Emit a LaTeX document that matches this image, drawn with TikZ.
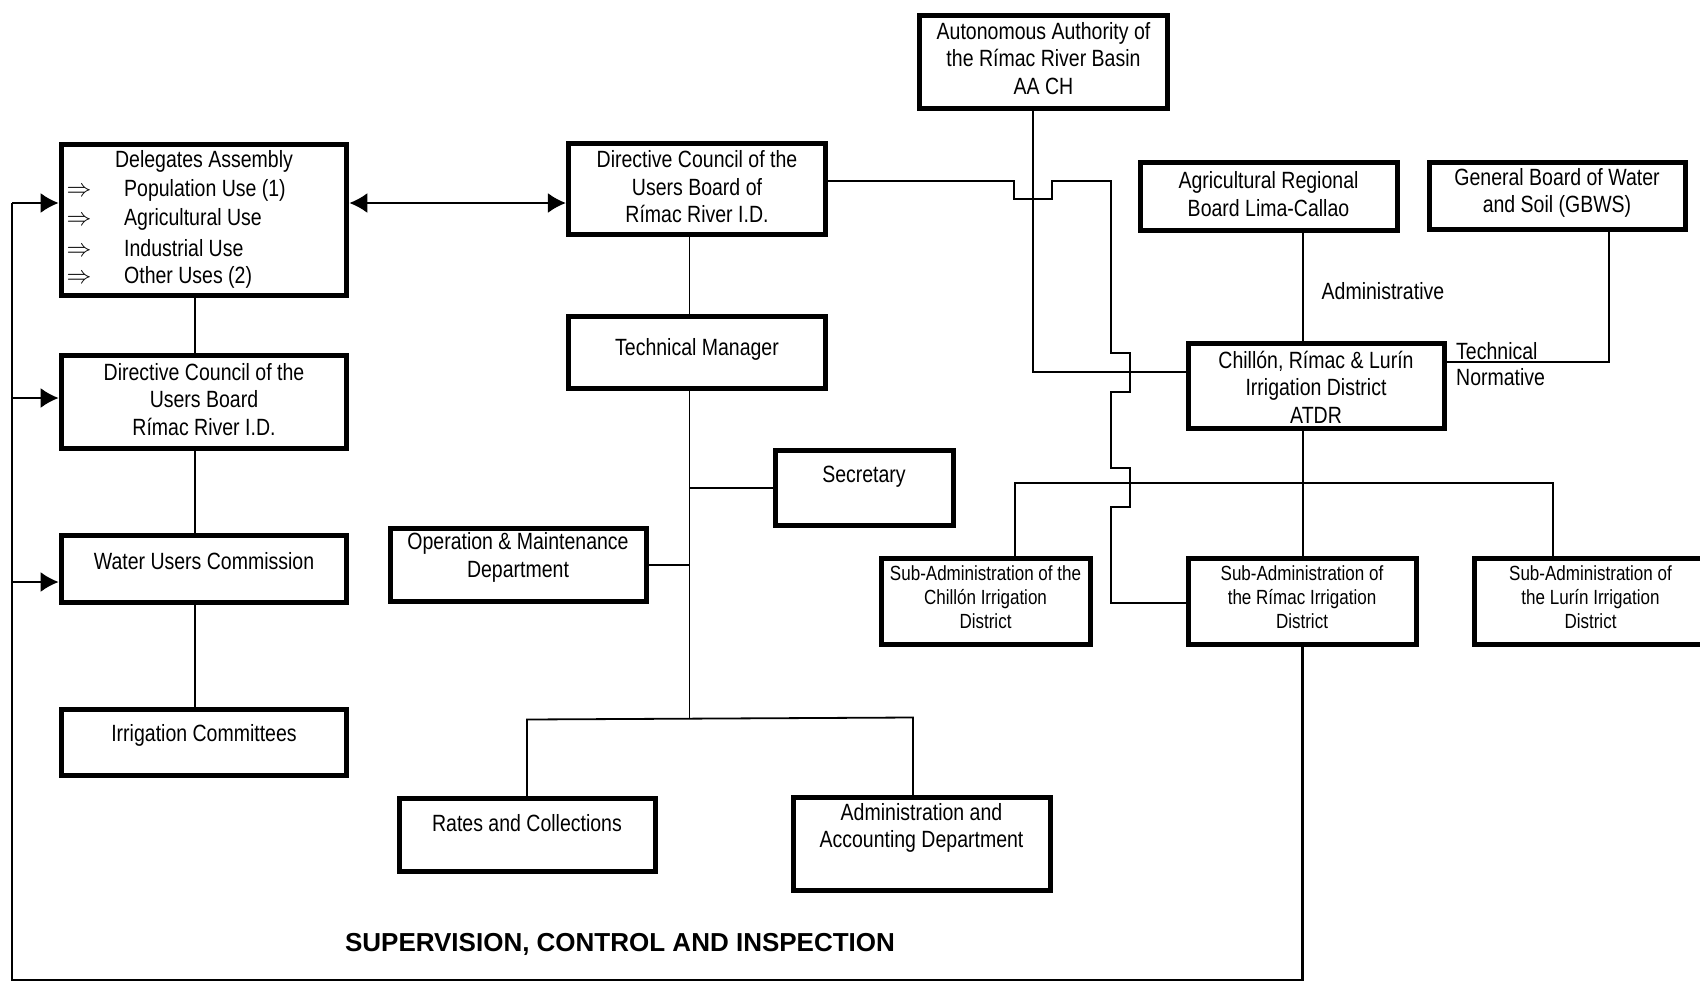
\documentclass[tikz,border=0pt]{standalone}
\usepackage{fontspec}
\setmainfont{Liberation Sans}[FakeStretch=0.83]
\newfontfamily\titlefont{Liberation Sans}
\usetikzlibrary{arrows.meta}
\begin{document}
\begin{tikzpicture}[x=1pt,y=-1pt,
  box/.style={draw, line width=5.3pt, inner sep=0pt},
  txt/.style={inner sep=0pt, align=center, font=\fontsize{23.5}{27.5}\selectfont},
  stxt/.style={inner sep=0pt, align=center, font=\fontsize{20.5}{24}\selectfont},
  wire/.style={line width=1.8pt},
  arr/.style={line width=1.8pt, -{Latex[length=18pt,width=20pt]}},
  darr/.style={line width=1.8pt, {Latex[length=18pt,width=20pt]}-{Latex[length=18pt,width=20pt]}}
]
\useasboundingbox (0,0) rectangle (1700,982);
\fill[white] (0,0) rectangle (1700,982);

% boxes
\node[box, minimum width=248pt, minimum height=93pt] (aach) at (1043.5,62) {};
\node[box, minimum width=285.5pt, minimum height=151pt] (deleg) at (204,220) {};
\node[box, minimum width=257pt, minimum height=91pt] (dcc) at (697,189) {};
\node[box, minimum width=257pt, minimum height=68pt] (arb) at (1269,196.5) {};
\node[box, minimum width=256pt, minimum height=67pt] (gbws) at (1557.5,196) {};
\node[box, minimum width=285.5pt, minimum height=93pt] (dcl) at (204,402) {};
\node[box, minimum width=257pt, minimum height=72pt] (tm) at (697,352.5) {};
\node[box, minimum width=256pt, minimum height=85pt] (atdr) at (1316.5,386) {};
\node[box, minimum width=178pt, minimum height=75pt] (sec) at (864.5,488) {};
\node[box, minimum width=285.5pt, minimum height=67pt] (wuc) at (204,569) {};
\node[box, minimum width=256pt, minimum height=73pt] (om) at (518.5,565) {};
\node[box, minimum width=209pt, minimum height=86pt] (sch) at (986,601.5) {};
\node[box, minimum width=228pt, minimum height=86pt] (srm) at (1302.5,601.5) {};
\node[box, minimum width=235pt, minimum height=86pt] (slu) at (1592,601.5) {};
\node[box, minimum width=285.5pt, minimum height=66pt] (ic) at (204,742.5) {};
\node[box, minimum width=256pt, minimum height=73pt] (rc) at (527.5,835) {};
\node[box, minimum width=257pt, minimum height=93pt] (aad) at (922,844) {};

% texts
\node[txt] (taach) at (1043.5,58.5) {Autonomous Authority of\\the Rímac River Basin\\AA CH};
\node[txt] (tdelA) at (204,161.5) {Delegates Assembly};
\foreach \yy/\lab [count=\i] in {190/Population Use (1),219/Agricultural Use,248/Industrial Use,277/Other Uses (2)}{
  \node[txt, anchor=west] (dl\i) at (124,\yy) {\lab};
  \node[txt, anchor=base] (da\i) at (dl\i.base -| 79,0) {$\Rightarrow$};
}
\node[txt] (tdcc) at (697,187) {Directive Council of the\\Users Board of\\Rímac River I.D.};
\node[txt] (tarb) at (1268.5,194) {Agricultural Regional\\Board Lima-Callao};
\node[txt] (tgbws) at (1557,193) {General Board of Water\\and Soil (GBWS)};
\node[txt] (tdcl) at (204,399.5) {Directive Council of the\\Users Board\\Rímac River I.D.};
\node[txt] (ttm) at (697,349) {Technical Manager};
\node[txt] (tatdr) at (1316,387) {Chillón, Rímac \& Lurín\\Irrigation District\\ATDR};
\node[txt] (tsec) at (864,477) {Secretary};
\node[txt] (twuc) at (204,561.5) {Water Users Commission};
\node[txt] (tom) at (518,557.5) {Operation \& Maintenance\\Department};
\node[stxt] (tsch) at (985.5,597.5) {Sub-Administration of the\\Chillón Irrigation\\District};
\node[stxt] (tsrm) at (1302,597.5) {Sub-Administration of\\the Rímac Irrigation\\District};
\node[stxt] (tslu) at (1590.5,597.5) {Sub-Administration of\\the Lurín Irrigation\\District};
\node[txt] (tic) at (204,735) {Irrigation Committees};
\node[txt] (trc) at (527,823) {Rates and Collections};
\node[txt] (taad) at (921.5,828) {Administration and\\Accounting Department};
\node[txt, anchor=west] (tadm) at (1321.5,291) {Administrative};
\node[txt, anchor=west] (ttec) at (1456,351) {Technical};
\node[txt, anchor=west] (tnor) at (1456,377) {Normative};
\node[inner sep=0pt, font=\titlefont\bfseries\fontsize{26}{30}\selectfont] (tsup) at (620,944) {SUPERVISION, CONTROL AND INSPECTION};

% coordinates
\coordinate (busT) at (12,203);
\coordinate (busB) at (12,980);
\coordinate (busR) at (1302.5,980);

% left column
\draw[wire] (deleg.south -| 195,0) -- (dcl.north -| 195,0);
\draw[wire] (dcl.south -| 195,0) -- (wuc.north -| 195,0);
\draw[wire] (wuc.south -| 195,0) -- (ic.north -| 195,0);

% supervision loop
\draw[line width=2.4pt] (srm.south) -- (busR) -- (busB) -- (busT);
\draw[arr] (busT) -- (deleg.west |- busT);
\draw[arr] (12,398) -- (dcl.west |- 0,398);
\draw[arr] (12,582) -- (wuc.west |- 0,582);

% double arrow
\draw[darr] (deleg.east |- 0,203) -- (dcc.west |- 0,203);

% central column
\coordinate (cbot) at (689.5,719);
\draw[wire] (dcc.south -| cbot) -- (tm.north -| cbot);
\draw[wire] (tm.south -| cbot) -- (cbot);
\draw[wire] (cbot |- 0,488) -- (sec.west |- 0,488);
\draw[wire] (om.east |- 0,565) -- (cbot |- 0,565);
\coordinate (rcT) at (527,719.5);
\coordinate (aadT) at (913,717.5);
\draw[wire] (rc.north -| rcT) -- (rcT) -- (aadT) -- (aad.north -| aadT);

% AACH to ATDR
\draw[wire] (aach.south -| 1033,0) -- (1033,372) -- (atdr.west |- 0,372);

% DCC to Rimac sub-admin with hops
\draw[wire] (dcc.east |- 0,181) -- (1014,181) -- (1014,199) -- (1052,199) -- (1052,181)
  -- (1111,181) -- (1111,353) -- (1130,353) -- (1130,392) -- (1111,392)
  -- (1111,468) -- (1130,468) -- (1130,507) -- (1111,507) -- (1111,603) -- (srm.west |- 0,603);

% ARB to ATDR
\draw[wire] (arb.south -| 1303,0) -- (atdr.north -| 1303,0);
% GBWS to ATDR
\draw[wire] (gbws.south -| 1609,0) -- (1609,362) -- (atdr.east |- 0,362);
% ATDR to sub-admins
\draw[wire] (atdr.south -| 1303,0) -- (srm.north -| 1303,0);
\draw[wire] (sch.north -| 1015,0) -- (1015,483) -- (1553,483) -- (slu.north -| 1553,0);
\end{tikzpicture}
\end{document}
